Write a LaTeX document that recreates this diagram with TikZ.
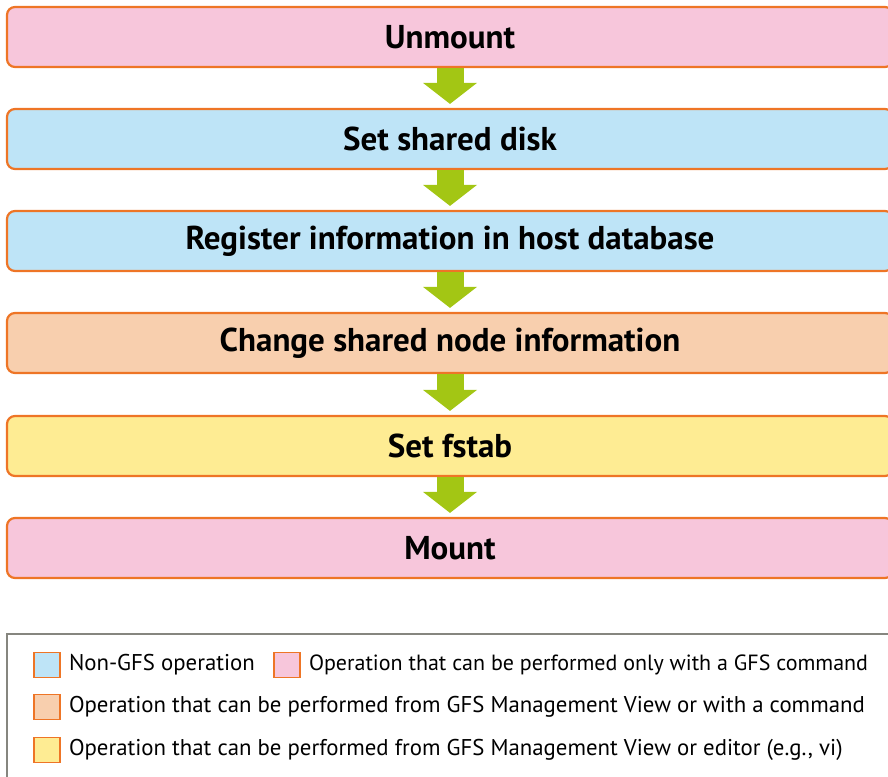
\documentclass[tikz,border=0pt]{standalone}
\usepackage{fontspec}
\setmainfont{PT Sans}
\usetikzlibrary{arrows.meta,positioning}
\definecolor{boxline}{HTML}{EE7526}
\definecolor{pinkfill}{HTML}{F7C6DB}
\definecolor{bluefill}{HTML}{BEE4F7}
\definecolor{peachfill}{HTML}{F8CFAE}
\definecolor{yellowfill}{HTML}{FEEC93}
\definecolor{flowgreen}{HTML}{A3C614}
\definecolor{legendline}{HTML}{86867F}
\tikzset{
    opbox/.style={
        draw=boxline,
        line width=2.2pt,
        rounded corners=8pt,
        minimum width=886pt,
        minimum height=60pt,
        inner sep=0pt,
        font=\fontsize{33}{35}\selectfont\bfseries
    },
    flow/.style={
        draw=flowgreen,
        line width=27pt,
        -{Triangle[length=21pt,width=54pt,line width=0pt]},
        shorten >=4pt
    },
    swatch/.style={
        draw=boxline,
        line width=1.6pt,
        minimum width=26pt,
        minimum height=25pt,
        inner sep=0pt
    },
    legendtext/.style={
        inner sep=0pt,
        font=\fontsize{22.8}{24}\selectfont
    }
}

\begin{document}
\begin{tikzpicture}[x=1pt,y=-1pt]
    \useasboundingbox (0,0) rectangle (888,776);
    \clip (0,0) rectangle (888,776);
    % steps
    \node[opbox, fill=pinkfill]   (unmount)  at (450,37)  {Unmount};
    \node[opbox, fill=bluefill]   (disk)     at (450,139) {Set shared disk};
    \node[opbox, fill=bluefill]   (hostdb)   at (450,241) {Register information in host database};
    \node[opbox, fill=peachfill]  (nodeinfo) at (450,343) {Change shared node information};
    \node[opbox, fill=yellowfill] (fstab)    at (450,446) {Set fstab};
    \node[opbox, fill=pinkfill]   (mount)    at (450,548) {Mount};
    \foreach \from/\to in {unmount/disk,disk/hostdb,hostdb/nodeinfo,nodeinfo/fstab,fstab/mount}
        \draw[flow] (\from) -- (\to);
    % legend
    \draw[legendline, line width=2pt] (7,790) -- (7,634) -- (900,634);
    \node[swatch, fill=bluefill]   (nongfs)  at (47,665) {};
    \node[swatch, fill=pinkfill]   (gfscmd)  at (287,665) {};
    \node[swatch, fill=peachfill]  (mgmtcmd) at (47,707) {};
    \node[swatch, fill=yellowfill] (mgmted)  at (47,750) {};
    \node[legendtext, right=8pt of nongfs]  {Non-GFS operation};
    \node[legendtext, right=8pt of gfscmd, font=\fontsize{22}{24}\selectfont]  {Operation that can be performed only with a GFS command};
    \node[legendtext, right=8pt of mgmtcmd] {Operation that can be performed from GFS Management View or with a command};
    \node[legendtext, right=8pt of mgmted]  {Operation that can be performed from GFS Management View or editor (e.g., vi)};
\end{tikzpicture}
\end{document}
